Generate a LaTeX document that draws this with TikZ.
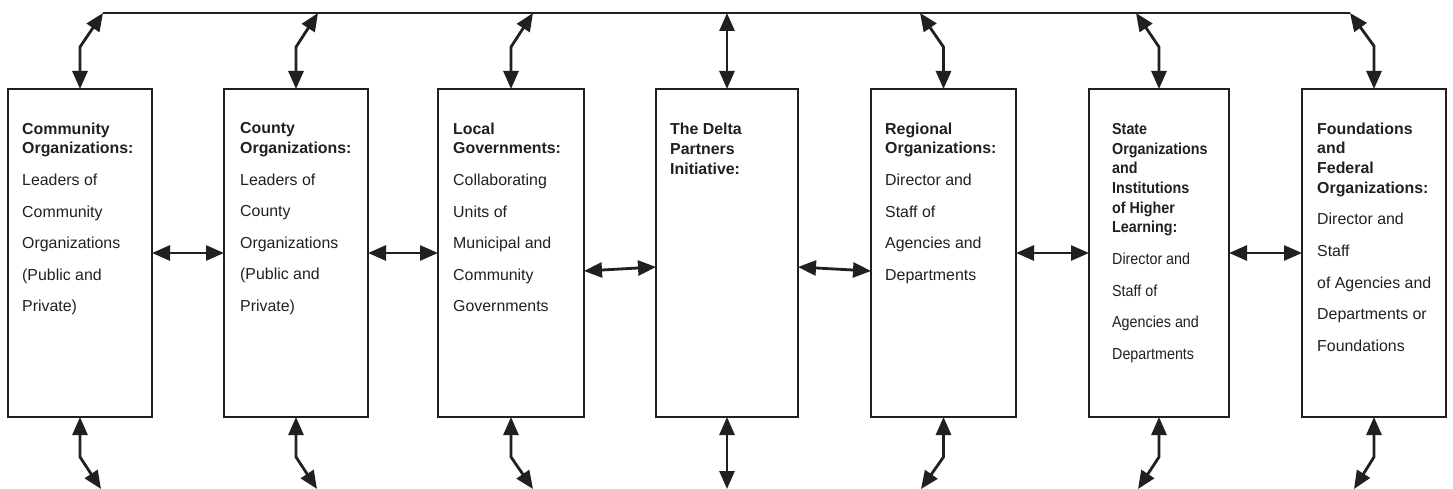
\documentclass[tikz,border=0pt]{standalone}
\usepackage{fontspec}
\setmainfont{Liberation Sans}
\usetikzlibrary{arrows.meta,calc}
\definecolor{ink}{RGB}{35,31,32}
\newcommand\gp{\\[11.9pt]}
\begin{document}
\begin{tikzpicture}[x=1pt,y=-1pt,
  box/.style={draw=ink, line width=2.8pt, rectangle, inner sep=0pt, outer sep=0pt, minimum height=328pt, anchor=north west},
  txt/.style={anchor=north west, inner sep=0pt, align=left, text=ink, font=\fontsize{15.9}{19.7}\selectfont},
  link/.style={draw=ink, line width=2.8pt, {Triangle[length=18pt 0 0,width=15pt 0 0]}-{Triangle[length=18pt 0 0,width=15pt 0 0]}},
  rail/.style={draw=ink, line width=2.4pt}]
\useasboundingbox (0,0) rectangle (1453,489);
% boxes
\node[box, minimum width=144pt] (b1) at (8,89) {};
\node[box, minimum width=144pt] (b2) at (224,89) {};
\node[box, minimum width=146pt] (b3) at (438,89) {};
\node[box, minimum width=142pt] (b4) at (656,89) {};
\node[box, minimum width=145pt] (b5) at (871,89) {};
\node[box, minimum width=140pt] (b6) at (1089,89) {};
\node[box, minimum width=144pt] (b7) at (1302,89) {};
% texts
\node[txt] (t1) at ($(b1.north west)+(14,33.5)$) {\textbf{Community}\\\textbf{Organizations:}\gp Leaders of\gp Community\gp Organizations\gp (Public and\gp Private)};
\node[txt] (t2) at ($(b2.north west)+(16,33.5)$) {\textbf{County}\\\textbf{Organizations:}\gp Leaders of\gp County\gp Organizations\gp (Public and\gp Private)};
\node[txt] (t3) at ($(b3.north west)+(15,33.5)$) {\textbf{Local}\\\textbf{Governments:}\gp Collaborating\gp Units of\gp Municipal and\gp Community\gp Governments};
\node[txt] (t4) at ($(b4.north west)+(14,34)$) {\textbf{The Delta}\\\textbf{Partners}\\\textbf{Initiative:}};
\node[txt] (t5) at ($(b5.north west)+(14,33.5)$) {\textbf{Regional}\\\textbf{Organizations:}\gp Director and\gp Staff of\gp Agencies and\gp Departments};
\node[txt, xscale=0.9, transform shape] (t6) at ($(b6.north west)+(23,34)$) {\textbf{State}\\\textbf{Organizations}\\\textbf{and}\\\textbf{Institutions}\\\textbf{of Higher}\\\textbf{Learning:}\gp Director and\gp Staff of\gp Agencies and\gp Departments};
\node[txt] (t7) at ($(b7.north west)+(15,33.5)$) {\textbf{Foundations}\\\textbf{and}\\\textbf{Federal}\\\textbf{Organizations:}\gp Director and\gp Staff\gp of Agencies and\gp Departments or\gp Foundations};
% top rail
\coordinate (h1) at (103,13);
\coordinate (h2) at (318,13);
\coordinate (h3) at (533,13);
\coordinate (h4) at (727,13);
\coordinate (h5) at (920,13);
\coordinate (h6) at (1136,13);
\coordinate (h7) at (1350,13);
\draw[rail] (h1) -- (h7);
\draw[link] (h1) -- ($(b1.north)+(0,-42)$) -- (b1.north);
\draw[link] (h2) -- ($(b2.north)+(0,-42)$) -- (b2.north);
\draw[link] (h3) -- ($(b3.north)+(0,-42)$) -- (b3.north);
\draw[link] (h4) -- (b4.north);
\draw[link] (h5) -- ($(b5.north)+(0,-42)$) -- (b5.north);
\draw[link] (h6) -- ($(b6.north)+(0,-42)$) -- (b6.north);
\draw[link] (h7) -- ($(b7.north)+(0,-43)$) -- (b7.north);
% bottom free ends
\coordinate (f1) at (101,489);
\coordinate (f2) at (317,489);
\coordinate (f3) at (533,489);
\coordinate (f4) at (727,489);
\coordinate (f5) at (921,489);
\coordinate (f6) at (1138,489);
\coordinate (f7) at (1354,489);
\draw[link] (b1.south) -- ($(b1.south)+(0,40)$) -- (f1);
\draw[link] (b2.south) -- ($(b2.south)+(0,40)$) -- (f2);
\draw[link] (b3.south) -- ($(b3.south)+(0,40)$) -- (f3);
\draw[link] (b4.south) -- (f4);
\draw[link] (b5.south) -- ($(b5.south)+(0,40)$) -- (f5);
\draw[link] (b6.south) -- ($(b6.south)+(0,40)$) -- (f6);
\draw[link] (b7.south) -- ($(b7.south)+(0,40)$) -- (f7);
% horizontal links
\draw[link] (b1.east) -- (b2.west);
\draw[link] (b2.east) -- (b3.west);
\draw[link] ($(b3.east)+(0,18)$) -- ($(b4.west)+(0,14)$);
\draw[link] ($(b4.east)+(0,14)$) -- ($(b5.west)+(0,18)$);
\draw[link] (b5.east) -- (b6.west);
\draw[link] (b6.east) -- (b7.west);
\end{tikzpicture}
\end{document}
